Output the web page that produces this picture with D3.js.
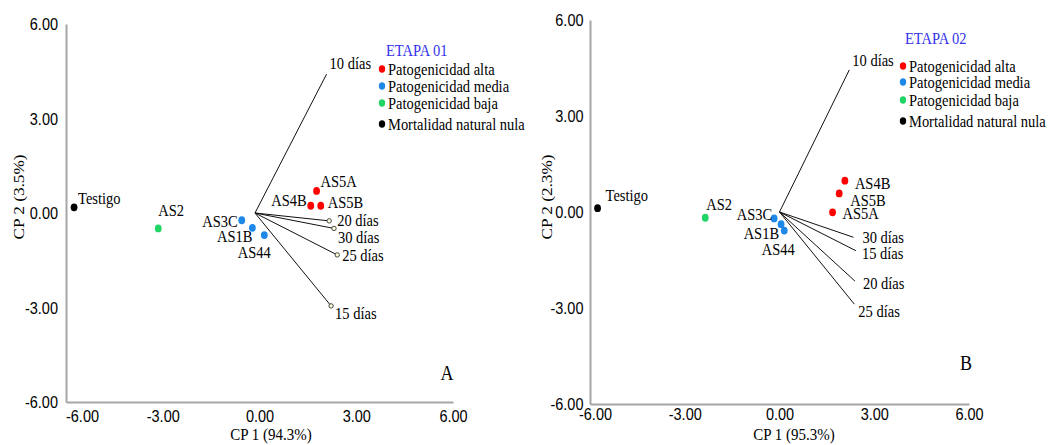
<!DOCTYPE html>
<html><head><meta charset="utf-8">
<script src="https://cdn.jsdelivr.net/npm/d3@7"></script>
<style>
body{margin:0;background:#fff;}
svg{display:block;font-family:"Liberation Serif","Times New Roman",serif;}
</style></head>
<body><svg id="c" width="1051" height="445"></svg>
<script>
// ---------- DATA ----------
const tickValues = [-6, -3, 0, 3, 6];
const treatments = ["Testigo","AS2","AS3C","AS1B","AS44","AS5A","AS4B","AS5B"];
const groups = ["nula","baja","media","media","media","alta","alta","alta"];
const legendLabels = ["Patogenicidad alta","Patogenicidad media","Patogenicidad baja","Mortalidad natural nula"];
const legendGroups = ["alta","media","baja","nula"];

// Etapa 01
const a_cp1 = [-5.75, -3.14, -0.55, -0.22, 0.15, 1.77, 1.59, 1.90];
const a_cp2 = [0.18, -0.49, -0.23, -0.47, -0.70, 0.70, 0.23, 0.23];
const a_vecNames = ["10 días","20 días","30 días","25 días","15 días"];
const a_vecCp1 = [2.08, 2.16, 2.31, 2.41, 2.22];
const a_vecCp2 = [4.41, -0.25, -0.49, -1.33, -2.95];
const a_vecOrigin = [-0.14, 0];

// Etapa 02
const b_cp1 = [-5.76, -2.35, -0.17, 0.05, 0.15, 1.68, 2.07, 1.89];
const b_cp2 = [0.12, -0.18, -0.20, -0.38, -0.58, -0.01, 0.98, 0.58];
const b_vecNames = ["10 días","30 días","15 días","20 días","25 días"];
const b_vecCp1 = [2.21, 2.34, 2.42, 2.39, 2.37];
const b_vecCp2 = [4.44, -0.79, -1.21, -2.16, -2.88];
const b_vecOrigin = [0, 0];

// ---------- STYLE / LAYOUT ----------
const colors = {alta:"#ff0000", media:"#1e88e8", baja:"#22d466", nula:"#000000"};
const FS = 14.5, SY = 1.15;

const panels = [
  {
    title:"ETAPA 01", letter:"A", xTitle:"CP 1 (94.3%)", yTitle:"CP 2 (3.5%)",
    cp1:a_cp1, cp2:a_cp2, vecNames:a_vecNames, vecCp1:a_vecCp1, vecCp2:a_vecCp2, vecOrigin:a_vecOrigin,
    endCircles:true,
    xRange:[66,453], yRange:[402,24], xLabY:416.5, yLabX:58, firstShift:16,
    xTitlePos:[271,434.5], yTitlePos:[19,197],
    titlePos:[386,50], legendPos:[382,69], legendSteps:[0,17,34,55], letterPos:[447,373],
    ptLab:[[4,-9,"start"],[0,-18,"start"],[-4,1,"end"],[0,8,"end"],[-10,17,"middle"],[4,-10,"start"],[-4,-6,"end"],[7,-4,"start"]],
    vecLab:[[3,-11],[8,-0.5],[4,8.5],[5,0],[4,7]]
  },
  {
    title:"ETAPA 02", letter:"B", xTitle:"CP 1 (95.3%)", yTitle:"CP 2 (2.3%)",
    cp1:b_cp1, cp2:b_cp2, vecNames:b_vecNames, vecCp1:b_vecCp1, vecCp2:b_vecCp2, vecOrigin:b_vecOrigin,
    endCircles:false,
    xRange:[590,969], yRange:[404,20], xLabY:414, yLabX:583.5, firstShift:5,
    xTitlePos:[794,434.5], yTitlePos:[547,197],
    titlePos:[905,38], legendPos:[903,66], legendSteps:[0,16,34,55], letterPos:[966,363],
    ptLab:[[8,-13,"start"],[1,-14,"start"],[-2,-4,"end"],[-2,9,"end"],[-6,19,"middle"],[10,0.5,"start"],[10,2,"start"],[11,6.5,"start"]],
    vecLab:[[3,-10],[9,-0.5],[6,2.5],[8,2],[4,7]]
  }
];

const svg = d3.select("#c");
svg.append("rect").attr("width",1051).attr("height",445).attr("fill","#fff");

// text centred vertically at (x,y), slightly stretched vertically like the source image
function label(g, x, y, str, anchor, opts) {
  opts = opts || {};
  const fs = opts.fs || FS;
  const rot = opts.rotate ? " rotate(-90)" : "";
  const sc = opts.rotate ? `scale(${SY},1)` : `scale(1,${SY})`;
  return g.append("text")
    .attr("transform", `translate(${x},${y})${rot} ${sc}`)
    .attr("text-anchor", anchor || "start")
    .attr("dominant-baseline", "central")
    .attr("font-size", fs)
    .attr("fill", opts.fill || "#000")
    .text(str);
}

panels.forEach(p => {
  const x = d3.scaleLinear().domain([-6,6]).range(p.xRange);
  const y = d3.scaleLinear().domain([-6,6]).range(p.yRange);
  const g = svg.append("g");

  // axes (lines from d3 axes, labels drawn per tick)
  const fmt = d => d.toFixed(2);
  const ax = g.append("g").attr("transform",`translate(0,${y(-6)})`)
    .call(d3.axisBottom(x).tickValues(tickValues).tickFormat(fmt).tickSize(0));
  const ay = g.append("g").attr("transform",`translate(${x(-6)},0)`)
    .call(d3.axisLeft(y).tickValues(tickValues).tickFormat(fmt).tickSize(0));
  [ax, ay].forEach(a => {
    a.select(".domain").attr("stroke","#a6a6a6").attr("stroke-width",2);
    a.selectAll(".tick text").remove();
  });
  ax.selectAll(".tick").each(function(d) {
    label(d3.select(this), d === -6 ? p.firstShift : 0, p.xLabY - y(-6), fmt(d), "middle");
  });
  ay.selectAll(".tick").each(function(d) {
    label(d3.select(this), p.yLabX - x(-6), 0, fmt(d), "end");
  });

  // axis titles
  label(g, p.xTitlePos[0], p.xTitlePos[1], p.xTitle, "middle", {fs:15});
  label(g, p.yTitlePos[0], p.yTitlePos[1], p.yTitle, "middle", {fs:15, rotate:true});

  // vectors
  const ox = x(p.vecOrigin[0]), oy = y(p.vecOrigin[1]);
  p.vecNames.forEach((n,i) => {
    const ex = x(p.vecCp1[i]), ey = y(p.vecCp2[i]);
    g.append("line").attr("x1",ox).attr("y1",oy).attr("x2",ex).attr("y2",ey)
      .attr("stroke","#111").attr("stroke-width",1);
    if (p.endCircles && i > 0) {
      g.append("circle").attr("cx",ex).attr("cy",ey).attr("r",2.2)
        .attr("fill","#ffffd8").attr("stroke","#333").attr("stroke-width",0.9);
    }
    label(g, ex + p.vecLab[i][0], ey + p.vecLab[i][1], n, "start");
  });

  // points
  treatments.forEach((t,i) => {
    const px = x(p.cp1[i]), py = y(p.cp2[i]);
    g.append("ellipse").attr("cx",px).attr("cy",py).attr("rx",3.4).attr("ry",3.9)
      .attr("fill",colors[groups[i]]);
    const L = p.ptLab[i];
    label(g, px + L[0], py + L[1], t, L[2]);
  });

  // legend
  label(g, p.titlePos[0], p.titlePos[1], p.title, "start", {fill:"#3333ee"});
  legendLabels.forEach((l,i) => {
    const ly = p.legendPos[1] + p.legendSteps[i];
    g.append("ellipse").attr("cx",p.legendPos[0]).attr("cy",ly).attr("rx",3.2).attr("ry",3.7)
      .attr("fill",colors[legendGroups[i]]);
    label(g, p.legendPos[0]+6, ly, l, "start");
  });

  // panel letter
  label(g, p.letterPos[0], p.letterPos[1], p.letter, "middle", {fs:18});
});
</script></body></html>
